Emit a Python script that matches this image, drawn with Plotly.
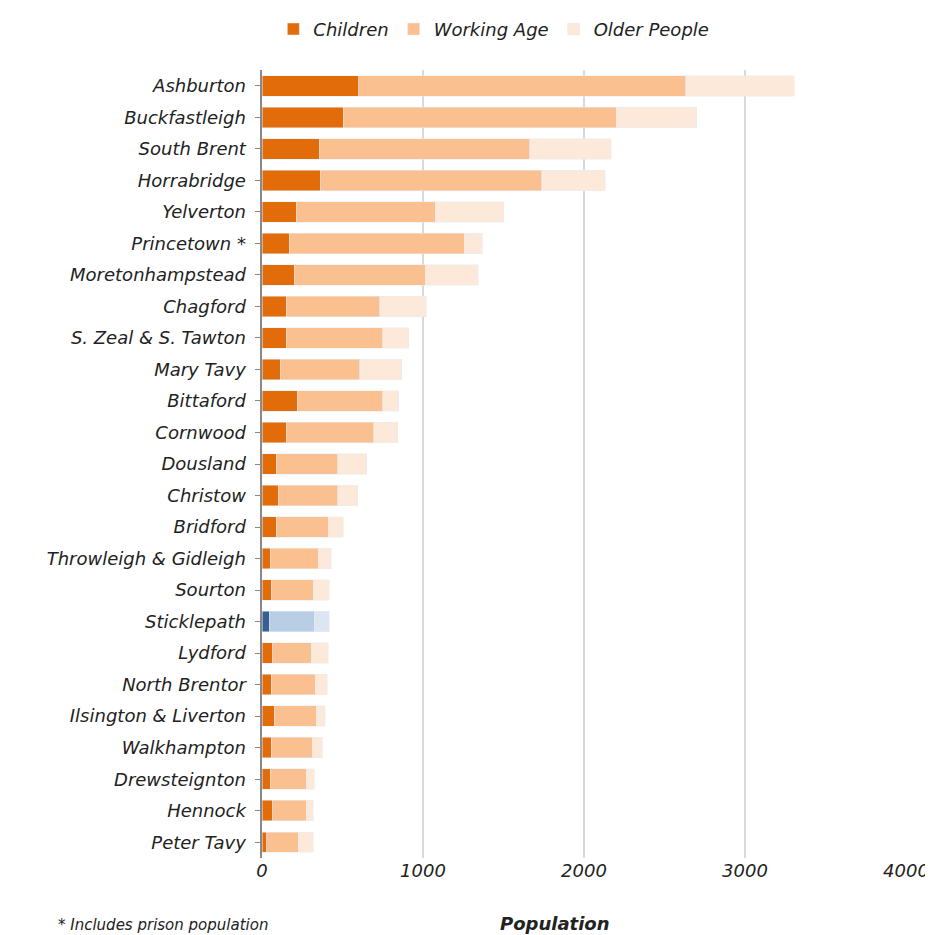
import plotly.graph_objects as go

places = ["Ashburton", "Buckfastleigh", "South Brent", "Horrabridge", "Yelverton",
          "Princetown *", "Moretonhampstead", "Chagford", "S. Zeal & S. Tawton", "Mary Tavy",
          "Bittaford", "Cornwood", "Dousland", "Christow", "Bridford",
          "Throwleigh & Gidleigh", "Sourton", "Sticklepath", "Lydford", "North Brentor",
          "Ilsington & Liverton", "Walkhampton", "Drewsteignton", "Hennock", "Peter Tavy"]
children = [600, 506, 356, 363, 213, 169, 200, 150, 150, 113, 219, 150, 88, 100, 88,
            50, 56, 44, 63, 56, 75, 56, 50, 63, 31]
working = [2031, 1694, 1307, 1375, 862, 1087, 813, 581, 600, 493, 531, 544, 381, 369, 325,
           300, 263, 281, 243, 275, 263, 257, 225, 212, 194]
older = [675, 500, 506, 393, 425, 113, 331, 288, 163, 263, 100, 150, 181, 125, 93,
         81, 100, 94, 107, 75, 56, 62, 50, 44, 94]

highlight = "Sticklepath"

def colours(normal, blue):
    return [blue if p == highlight else normal for p in places]

font = dict(family="DejaVu Sans, sans-serif", size=18, color="#222", style="italic")

fig = go.Figure()
fig.add_bar(y=places, x=children, name="Children", orientation="h",
            marker_color=colours("#E36C0A", "#376092"))
fig.add_bar(y=places, x=working, name="Working Age", orientation="h",
            marker_color=colours("#FAC090", "#B9CDE5"))
fig.add_bar(y=places, x=older, name="Older People", orientation="h",
            marker_color=colours("#FDE9D9", "#DCE6F2"))

fig.update_layout(
    barmode="stack", bargap=0.35, width=933, height=935,
    plot_bgcolor="white", paper_bgcolor="white", font=font,
    margin=dict(l=254, r=32, t=62, b=85),
    legend=dict(orientation="h", x=0.36, xanchor="center", y=0.997, yanchor="top",
                yref="container", font=font, traceorder="normal"),
    xaxis=dict(range=[0, 4000], dtick=1000, showgrid=True, gridcolor="#d9d9d9",
               gridwidth=1.5, zeroline=False, tickfont=font),
    yaxis=dict(autorange="reversed", showline=True, linecolor="#888", linewidth=1.5,
               ticks="outside", ticklen=5, tickcolor="#888", tickfont=font,
               ticksuffix=" "),
    annotations=[
        dict(text="* Includes prison population", x=-0.32, y=-0.085,
             xref="paper", yref="paper", showarrow=False, xanchor="left", yanchor="middle",
             font=dict(family="DejaVu Sans, sans-serif", size=15, style="italic", color="#222")),
        dict(text="<b>Population</b>", x=0.455, y=-0.083, xref="paper", yref="paper",
             showarrow=False, xanchor="center", yanchor="middle", font=font),
    ],
)
fig.write_html("out.html")
